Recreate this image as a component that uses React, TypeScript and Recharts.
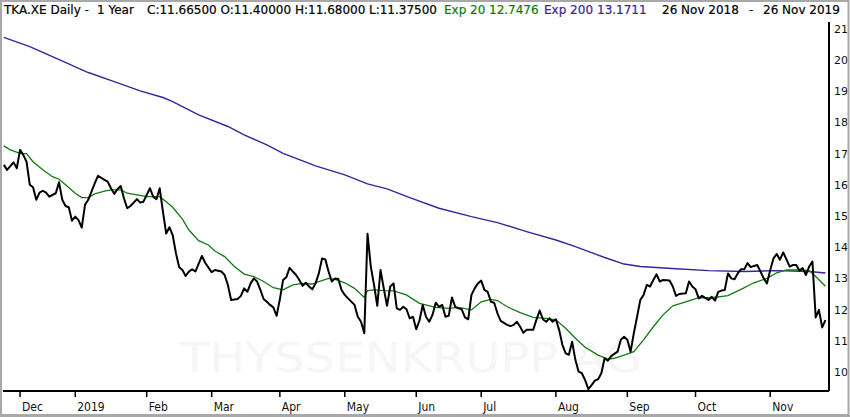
import React from 'react';
import { LineChart, Line, XAxis, YAxis } from 'recharts';

// ---- axis categories / ticks ----
const monthTickDays = [5, 22, 44, 64, 85, 105, 127, 147, 170, 192, 213, 236];
const monthLabels = ['Dec', '2019', 'Feb', 'Mar', 'Apr', 'May', 'Jun', 'Jul', 'Aug', 'Sep', 'Oct', 'Nov'];
const priceTicks = [10, 11, 12, 13, 14, 15, 16, 17, 18, 19, 20, 21];

// ---- daily close (trading-day index from 26 Nov 2018) ----
const closeDays = [
  0, 1, 3, 4, 5, 6, 7, 8, 9, 10, 11, 12, 13, 14, 16, 17, 18, 19, 20, 21, 22, 23, 24, 25, 26, 28, 29, 31, 32, 33,
  34, 35, 36, 37, 38, 39, 41, 42, 43, 45, 46, 47, 48, 49, 50, 51, 52, 53, 54, 55, 56, 57, 58, 59, 61, 62, 64, 65,
  67, 68, 69, 70, 72, 73, 74, 75, 76, 77, 78, 79, 80, 81, 82, 83, 84, 85, 86, 87, 88, 89, 90, 91, 92, 93, 94, 95,
  96, 97, 98, 99, 100, 101, 102, 103, 104, 105, 106, 108, 109, 110, 111, 112, 113, 114, 115, 116, 117, 118, 119,
  120, 121, 122, 123, 124, 125, 126, 127, 128, 129, 130, 131, 132, 133, 134, 135, 136, 137, 138, 139, 140, 141,
  142, 143, 144, 145, 146, 147, 148, 149, 150, 151, 152, 153, 155, 156, 157, 158, 159, 160, 161, 163, 164, 165,
  166, 167, 168, 169, 170, 171, 172, 173, 174, 175, 176, 177, 178, 179, 180, 181, 182, 183, 184, 185, 186, 187,
  188, 189, 190, 191, 192, 193, 194, 195, 196, 197, 198, 199, 200, 201, 202, 203, 205, 206, 207, 208, 210, 211,
  212, 213, 214, 215, 217, 218, 219, 220, 221, 222, 223, 224, 225, 226, 227, 228, 229, 230, 231, 232, 233, 234,
  235, 236, 237, 238, 239, 240, 241, 242, 243, 244, 245, 246, 247, 248, 249, 250, 251, 252, 253,
];
const closeValues = [
  16.64, 16.48, 16.72, 16.53, 17.12, 16.96, 16.74, 16.0, 15.92, 15.52, 15.75, 15.81, 15.75, 15.62, 15.73, 16.08,
  15.52, 15.32, 15.28, 14.85, 14.98, 14.87, 14.63, 15.36, 15.52, 16.05, 16.29, 16.16, 16.1, 15.89,
  15.71, 15.86, 15.96, 15.57, 15.25, 15.32, 15.54, 15.43, 15.46, 15.89, 15.62, 15.54, 15.89, 15.14, 14.44, 14.64,
  14.39, 13.81, 13.36, 13.27, 13.08, 13.22, 13.29, 13.22, 13.72, 13.5, 13.2, 13.27,
  13.22, 13.11, 12.79, 12.31, 12.34, 12.44, 12.68, 12.57, 12.84, 13.0, 12.9, 12.63, 12.34, 12.25, 12.15, 12.07,
  11.8, 12.33, 12.95, 13.04, 13.34, 13.22, 13.11, 12.95, 12.76, 12.86, 12.74, 12.65,
  12.84, 13.16, 13.64, 13.61, 13.22, 12.9, 13.0, 12.98, 12.63, 12.47, 12.36, 12.15, 11.77, 11.61, 11.24, 14.43,
  13.38, 12.79, 12.12, 13.27, 12.68, 12.12, 12.74,
  12.84, 12.04, 11.99, 12.09, 12.01, 11.72, 11.77, 11.37, 11.65, 12.15, 11.77, 11.61, 11.83, 12.22, 12.09, 12.15,
  11.77, 11.8, 12.39, 12.09, 12.04, 12.01,
  11.75, 11.69, 12.47, 12.68, 12.84, 12.93, 12.63, 12.57, 12.25, 12.22, 11.88, 11.64, 11.51, 11.47, 11.51, 11.61,
  11.45, 11.26, 11.35, 11.35, 11.67, 11.97,
  11.69, 11.61, 11.72, 11.61, 11.69, 11.35, 10.87, 10.6, 10.55, 10.97, 10.39, 10.01, 9.96, 9.74, 9.45, 9.58, 9.72,
  9.77, 9.96, 10.44, 10.36, 10.51,
  10.58, 10.65, 11.03, 11.13, 11.03, 10.65, 11.24, 11.77, 12.31, 12.47, 12.79, 12.74, 12.95, 13.13, 12.9, 12.95,
  12.93, 12.74, 12.44, 12.5, 12.52, 12.9,
  12.74, 12.65, 12.36, 12.44, 12.31, 12.41, 12.29, 12.57, 12.61, 12.63, 13.16, 13.0, 12.97, 13.16, 13.29, 13.29,
  13.49, 13.36, 13.4, 13.43, 13.22, 13.0,
  12.84, 13.27, 13.64, 13.78, 13.6, 13.83, 13.61, 13.38, 13.43, 13.43, 13.25, 13.33, 13.11, 13.38, 13.54, 11.75,
  11.99, 11.43, 11.665,
];

// ---- Exp 20 ----
const ema20Days = [
  0, 2, 5, 7, 9, 12, 15, 17, 19, 22, 24, 26, 28, 31, 33, 36, 38, 41, 44, 48, 50, 52, 55, 57, 60, 63, 65, 68, 71, 74,
  77, 80, 83, 86, 89, 92, 95, 97, 100, 102, 105, 108, 111, 112, 114, 117, 120, 124, 125, 128, 133, 137, 140, 144,
  147, 150, 152, 155, 159, 163, 167, 170, 173, 176, 179, 183, 186, 188, 191, 194, 197, 200, 203, 206, 210, 214,
  218, 223, 227, 231, 235, 238, 241, 245, 248, 250, 253,
];
const ema20Values = [
  17.25, 17.12, 17.01, 17.0, 16.74, 16.48, 16.26, 16.18, 16.0, 15.73, 15.59, 15.59, 15.71, 15.8, 15.84, 15.84, 15.73,
  15.68, 15.62, 15.62, 15.46, 15.28, 14.9, 14.55, 14.21, 14.07, 13.88, 13.7, 13.38, 13.14,
  13.06, 12.9, 12.7, 12.63, 12.79, 12.84, 12.82, 12.9, 13.0, 12.97, 12.86, 12.68, 12.39, 12.61, 12.63, 12.61, 12.6,
  12.47, 12.4, 12.2, 12.07, 12.04, 12.07, 11.99,
  12.25, 12.33, 12.29, 12.09, 11.9, 11.75, 11.72, 11.67, 11.4, 11.08, 10.79, 10.54, 10.41, 10.44, 10.54, 10.65,
  11.03, 11.45, 11.83, 12.12, 12.25, 12.38,
  12.38, 12.45, 12.65, 12.86, 13.0, 13.18, 13.27, 13.27, 13.25, 13.06, 12.7476,
];

// ---- Exp 200 ----
const ema200Days = [
  0, 8, 16, 26, 34, 42, 49, 52, 60, 69, 74, 81, 86, 96, 105, 112, 118, 125, 134, 144, 152, 161, 170, 176, 185, 191,
  196, 207, 217, 228, 238, 248, 253,
];
const ema200Values = [
  20.73, 20.43, 20.06, 19.6, 19.31, 19.01, 18.8, 18.67, 18.24, 17.87, 17.6, 17.28, 17.01, 16.61, 16.32, 16.03, 15.87,
  15.59, 15.25, 14.98, 14.79, 14.5, 14.23, 14.02, 13.67, 13.46, 13.38, 13.31, 13.25, 13.22, 13.25, 13.22, 13.1711,
];

const toPoints = (days: number[], vals: number[]) => days.map((d, i) => ({ day: d, v: vals[i] }));

const closeData = toPoints(closeDays, closeValues);
const ema20Data = toPoints(ema20Days, ema20Values);
const ema200Data = toPoints(ema200Days, ema200Values);

const GREEN = '#127a12';
const PURPLE = '#3a249a';
const FONT = '"DejaVu Sans", sans-serif';

const XTick = (props: any) => {
  const { x, y, payload } = props;
  const i = monthTickDays.indexOf(payload.value);
  return (
    <text x={x + 2} y={y + 12} fontFamily='"DejaVu Sans Condensed", "DejaVu Sans", sans-serif' fontSize={12} fill="#111" textAnchor="start">
      {i >= 0 ? monthLabels[i] : ''}
    </text>
  );
};

const YTick = (props: any) => {
  const { x, y, payload } = props;
  return (
    <text x={x} y={y + 4} fontFamily={FONT} fontSize={11} fill="#111" textAnchor="start">
      {payload.value}
    </text>
  );
};

type Seg = { t: string; x: number; c: string };
const headerSegments: Seg[] = [
  { t: 'TKA.XE Daily -', x: 4, c: '#000' },
  { t: '1 Year', x: 97, c: '#000' },
  { t: 'C:11.66500', x: 147, c: '#000' },
  { t: 'O:11.40000', x: 220.5, c: '#000' },
  { t: 'H:11.68000', x: 295, c: '#000' },
  { t: 'L:11.37500', x: 369, c: '#000' },
  { t: 'Exp 20', x: 444, c: GREEN },
  { t: '12.7476', x: 489, c: GREEN },
  { t: 'Exp 200', x: 544, c: PURPLE },
  { t: '13.1711', x: 597, c: PURPLE },
  { t: '26 Nov 2018', x: 662, c: '#000' },
  { t: '-', x: 749, c: '#000' },
  { t: '26 Nov 2019', x: 763, c: '#000' },
];

export default function App() {
  return (
    <div style={{ position: 'absolute', left: 0, top: 0, width: 850, height: 417, background: '#fff', overflow: 'hidden' }}>
      <svg width={850} height={417} style={{ position: 'absolute', left: 0, top: 0 }}>
        <text x={180} y={372} fontFamily={FONT} fontSize={40} fill="#f6f6f6" textLength={462} lengthAdjust="spacingAndGlyphs">
          THYSSENKRUPP AG
        </text>
      </svg>
      <div style={{ position: 'absolute', left: 0, top: 0 }}>
        <LineChart width={850} height={417} margin={{ top: 22, right: 0, bottom: 0, left: 3 }}>
          <XAxis
            dataKey="day"
            type="number"
            domain={[-0.25, 254.1]}
            allowDataOverflow
            ticks={monthTickDays}
            interval={0}
            height={26}
            axisLine={{ stroke: '#000', strokeWidth: 2 }}
            tickLine={{ stroke: '#000', strokeWidth: 1.5 }}
            tickSize={6}
            tickMargin={2}
            tick={<XTick />}
          />
          <YAxis
            orientation="right"
            type="number"
            domain={[9.39, 21.22]}
            allowDataOverflow
            ticks={priceTicks}
            interval={0}
            width={21}
            axisLine={{ stroke: '#000', strokeWidth: 2 }}
            tickLine={false}
            tickSize={3}
            tickMargin={2}
            tick={<YTick />}
          />
          <Line data={ema200Data} dataKey="v" type="linear" stroke={PURPLE} strokeWidth={1.4} dot={false} isAnimationActive={false} />
          <Line data={ema20Data} dataKey="v" type="linear" stroke={GREEN} strokeWidth={1.3} dot={false} isAnimationActive={false} />
          <Line data={closeData} dataKey="v" type="linear" stroke="#000" strokeWidth={2} strokeLinejoin="round" dot={false} isAnimationActive={false} />
        </LineChart>
      </div>
      <svg width={850} height={417} style={{ position: 'absolute', left: 0, top: 0, pointerEvents: 'none' }}>
        {headerSegments.map((s, i) => (
          <text key={i} x={s.x} y={14} fontFamily={FONT} fontSize={12} fill={s.c} stroke={s.c} strokeWidth={0.2}>
            {s.t}
          </text>
        ))}
        <rect x={1} y={1} width={847.5} height={414} fill="none" stroke="#a8a8a8" strokeWidth={2} />
        <line x1={0} y1={416} x2={850} y2={416} stroke="#a8a8a8" strokeWidth={2} />
      </svg>
    </div>
  );
}
